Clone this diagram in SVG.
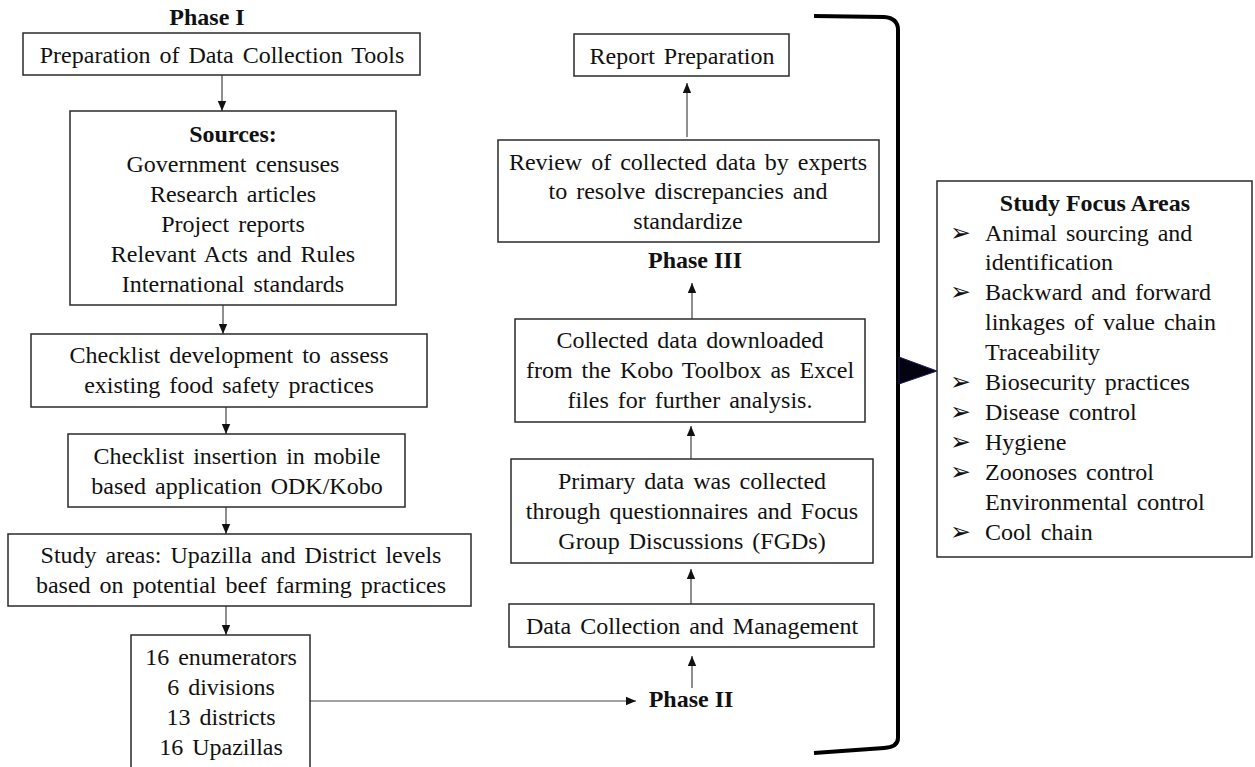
<svg xmlns="http://www.w3.org/2000/svg" width="1255" height="767" viewBox="0 0 1255 767">
<defs>
<style>
.box{fill:#fff;stroke:#2a2a2a;stroke-width:1.5}
.t{font-family:"Liberation Serif","Times New Roman",serif;font-size:24px;fill:#111;word-spacing:3px}
.c{text-anchor:middle}
.b{font-weight:bold;word-spacing:0}
.con{stroke:#444;stroke-width:1.2;fill:none}
.bul{font-family:"DejaVu Sans",sans-serif;font-size:25px;fill:#111}
</style>
<marker id="ah" markerUnits="userSpaceOnUse" markerWidth="10" markerHeight="10" viewBox="0 0 10 10" refX="10" refY="5" orient="auto">
<path d="M0,0.8 L10,5 L0,9.2 Z" fill="#111"/>
</marker>
</defs>
<rect width="1255" height="767" fill="#fff"/>

<g id="connectors">
<line class="con" x1="222" y1="75" x2="222" y2="111" marker-end="url(#ah)"/>
<line class="con" x1="223" y1="305" x2="223" y2="334" marker-end="url(#ah)"/>
<line class="con" x1="226" y1="407" x2="226" y2="434" marker-end="url(#ah)"/>
<line class="con" x1="226" y1="507" x2="226" y2="534" marker-end="url(#ah)"/>
<line class="con" x1="226" y1="606" x2="226" y2="635" marker-end="url(#ah)"/>
<line class="con" x1="310" y1="701" x2="636" y2="701" marker-end="url(#ah)"/>
<line class="con" x1="692" y1="688" x2="692" y2="656" marker-end="url(#ah)"/>
<line class="con" x1="691" y1="604" x2="691" y2="569" marker-end="url(#ah)"/>
<line class="con" x1="691" y1="459" x2="691" y2="426" marker-end="url(#ah)"/>
<line class="con" x1="692" y1="319" x2="692" y2="283" marker-end="url(#ah)"/>
<line class="con" x1="687" y1="137" x2="687" y2="83" marker-end="url(#ah)"/>
</g>

<g id="bracket">
<path d="M814,16 L884,17 Q898,18 898,30 L898,738 Q898,747 884,748 L814,753" fill="none" stroke="#000" stroke-width="4"/>
<path d="M899,357 L937,371 L899,384 Z" fill="#030312" stroke="#1c1c55" stroke-width="1"/>
</g>

<g id="phase1-label"><text class="t c b" x="207" y="25">Phase I</text></g>

<g id="n-prep">
<rect class="box" x="23" y="33" width="397" height="42"/>
<text class="t c" x="222" y="63">Preparation of Data Collection Tools</text>
</g>

<g id="n-sources">
<rect class="box" x="70" y="111" width="326" height="194"/>
<text class="t c b" x="233" y="142">Sources:</text>
<text class="t c" x="233" y="172">Government censuses</text>
<text class="t c" x="233" y="202">Research articles</text>
<text class="t c" x="233" y="232">Project reports</text>
<text class="t c" x="233" y="262">Relevant Acts and Rules</text>
<text class="t c" x="233" y="292">International standards</text>
</g>

<g id="n-checklist">
<rect class="box" x="31" y="334" width="396" height="73"/>
<text class="t c" x="229" y="363">Checklist development to assess</text>
<text class="t c" x="229" y="393">existing food safety practices</text>
</g>

<g id="n-insertion">
<rect class="box" x="68" y="434" width="337" height="73"/>
<text class="t c" x="237" y="464">Checklist insertion in mobile</text>
<text class="t c" x="237" y="494">based application ODK/Kobo</text>
</g>

<g id="n-areas">
<rect class="box" x="8" y="534" width="463" height="72"/>
<text class="t c" x="241" y="563">Study areas: Upazilla and District levels</text>
<text class="t c" x="241" y="593">based on potential beef farming practices</text>
</g>

<g id="n-counts">
<rect class="box" x="131" y="635" width="179" height="140"/>
<text class="t c" x="221" y="665">16 enumerators</text>
<text class="t c" x="221" y="695">6 divisions</text>
<text class="t c" x="221" y="725">13 districts</text>
<text class="t c" x="221" y="755">16 Upazillas</text>
</g>

<g id="phase2-label"><text class="t c b" x="691" y="707">Phase II</text></g>

<g id="n-dcm">
<rect class="box" x="509" y="604" width="365" height="43"/>
<text class="t c" x="692" y="634">Data Collection and Management</text>
</g>

<g id="n-primary">
<rect class="box" x="511" y="459" width="362" height="104"/>
<text class="t c" x="692" y="489">Primary data was collected</text>
<text class="t c" x="692" y="519">through questionnaires and Focus</text>
<text class="t c" x="692" y="549">Group Discussions (FGDs)</text>
</g>

<g id="n-downloaded">
<rect class="box" x="515" y="319" width="350" height="103"/>
<text class="t c" x="690" y="348">Collected data downloaded</text>
<text class="t c" x="690" y="378">from the Kobo Toolbox as Excel</text>
<text class="t c" x="690" y="408">files for further analysis.</text>
</g>

<g id="phase3-label"><text class="t c b" x="695" y="268">Phase III</text></g>

<g id="n-review">
<rect class="box" x="498" y="140" width="381" height="102"/>
<text class="t c" x="688" y="170">Review of collected data by experts</text>
<text class="t c" x="688" y="199">to resolve discrepancies and</text>
<text class="t c" x="688" y="229">standardize</text>
</g>

<g id="n-report">
<rect class="box" x="574" y="34" width="215" height="42"/>
<text class="t c" x="682" y="64">Report Preparation</text>
</g>

<g id="n-focus">
<rect class="box" x="937" y="181" width="315" height="376"/>
<text class="t c b" x="1095" y="211">Study Focus Areas</text>
<text class="bul" x="950" y="241">➢</text>
<text class="t" x="985" y="241">Animal sourcing and</text>
<text class="t" x="985" y="270">identification</text>
<text class="bul" x="950" y="300">➢</text>
<text class="t" x="985" y="300">Backward and forward</text>
<text class="t" x="985" y="330">linkages of value chain</text>
<text class="t" x="985" y="360">Traceability</text>
<text class="bul" x="950" y="390">➢</text>
<text class="t" x="985" y="390">Biosecurity practices</text>
<text class="bul" x="950" y="420">➢</text>
<text class="t" x="985" y="420">Disease control</text>
<text class="bul" x="950" y="450">➢</text>
<text class="t" x="985" y="450">Hygiene</text>
<text class="bul" x="950" y="480">➢</text>
<text class="t" x="985" y="480">Zoonoses control</text>
<text class="t" x="985" y="510">Environmental control</text>
<text class="bul" x="950" y="540">➢</text>
<text class="t" x="985" y="540">Cool chain</text>
</g>
</svg>
